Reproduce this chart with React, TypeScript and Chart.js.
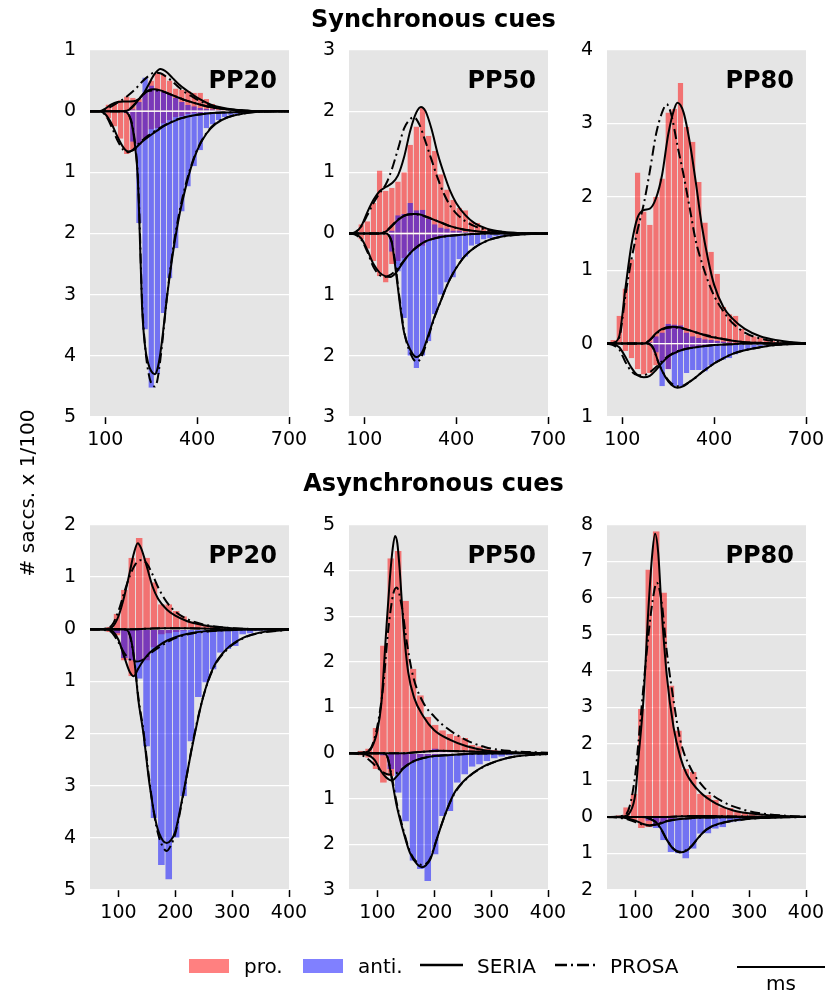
import React, { useEffect, useRef } from "react";
import { Chart, registerables } from "chart.js";
Chart.register(...registerables);

// ---------- bins & ticks ----------
const TOP_BINS = [70, 90, 110, 130, 150, 170, 190, 210, 230, 250, 270, 290, 310, 330, 350, 370, 390, 410, 430, 450, 470, 490, 510, 530, 550, 570, 590, 610, 630, 650, 670, 690];
const BOT_BINS = [58.5, 71.5, 84.5, 97.5, 110.5, 123.5, 136.5, 149.5, 162.5, 175.5, 188.5, 201.5, 214.5, 227.5, 240.5, 253.5, 266.5, 279.5, 292.5, 305.5, 318.5, 331.5, 344.5, 357.5, 370.5, 383.5, 396.5];
const TOP_XTICKS = [100, 400, 700];
const BOT_XTICKS = [100, 200, 300, 400];

// ---------- Synchronous PP20 ----------
const S20_PRO_UP = [0, 0.01, 0.11, 0.12, 0.18, 0.24, 0.22, 0.2, 0.3, 0.5, 0.62, 0.6, 0.5, 0.37, 0.35, 0.33, 0.3, 0.3, 0.2, 0.12, 0.08, 0.05, 0.03, 0.02, 0.01, 0, 0, 0, 0, 0, 0, 0];
const S20_ANTI_UP = [0, 0, 0, 0, 0, 0, 0.03, 0.15, 0.55, 0.42, 0.35, 0.32, 0.28, 0.22, 0.15, 0.1, 0.08, 0.05, 0.04, 0.03, 0.02, 0.01, 0, 0, 0, 0, 0, 0, 0, 0, 0, 0];
const S20_PRO_DN = [0, 0.02, 0.12, 0.25, 0.45, 0.7, 0.65, 0.55, 0.45, 0.3, 0.28, 0.2, 0.15, 0.1, 0.08, 0.05, 0.04, 0.03, 0.02, 0.01, 0, 0, 0, 0, 0, 0, 0, 0, 0, 0, 0, 0];
const S20_ANTI_DN = [0, 0, 0, 0, 0, 0.03, 0.5, 1.83, 3.57, 4.52, 4.3, 3.3, 2.73, 2.24, 1.64, 1.23, 0.9, 0.64, 0.28, 0.22, 0.15, 0.1, 0.07, 0.05, 0.03, 0.02, 0.01, 0, 0, 0, 0, 0];
const S20_SERIA_PRO = [[50, 0], [80, 0], [100, 0.04], [120, 0.11], [140, 0.15], [160, 0.16], [180, 0.16], [200, 0.17], [220, 0.25], [240, 0.42], [260, 0.6], [280, 0.69], [300, 0.64], [320, 0.54], [340, 0.44], [360, 0.36], [380, 0.29], [400, 0.22], [430, 0.14], [460, 0.08], [500, 0.04], [550, 0.01], [600, 0], [700, 0]];
const S20_PROSA_PRO = [[50, 0], [80, 0], [100, 0.03], [120, 0.08], [140, 0.14], [160, 0.2], [180, 0.28], [200, 0.37], [220, 0.48], [240, 0.57], [260, 0.63], [280, 0.62], [300, 0.56], [320, 0.48], [340, 0.39], [360, 0.31], [380, 0.25], [400, 0.19], [430, 0.12], [460, 0.07], [500, 0.03], [550, 0.01], [600, 0], [700, 0]];
const S20_SERIA_ANTI_UP = [[50, 0], [160, 0], [180, 0.03], [200, 0.13], [220, 0.26], [240, 0.34], [260, 0.36], [280, 0.34], [300, 0.3], [320, 0.26], [340, 0.22], [360, 0.18], [380, 0.15], [400, 0.12], [430, 0.08], [460, 0.05], [500, 0.03], [550, 0.01], [600, 0], [700, 0]];
const S20_PROSA_ANTI_UP = [[50, 0], [160, 0], [180, 0.04], [200, 0.14], [220, 0.25], [240, 0.33], [260, 0.34], [280, 0.33], [300, 0.3], [320, 0.26], [340, 0.22], [360, 0.18], [380, 0.15], [400, 0.12], [430, 0.08], [460, 0.05], [500, 0.03], [550, 0.01], [600, 0], [700, 0]];
const S20_SERIA_PRO_DN = [[50, 0], [80, 0], [100, 0.05], [120, 0.2], [140, 0.42], [160, 0.6], [175, 0.66], [190, 0.64], [200, 0.6], [220, 0.5], [240, 0.42], [260, 0.35], [280, 0.28], [300, 0.22], [330, 0.15], [360, 0.1], [400, 0.06], [450, 0.03], [500, 0.02], [550, 0.01], [600, 0], [700, 0]];
const S20_PROSA_PRO_DN = [[50, 0], [80, 0], [100, 0.06], [120, 0.25], [140, 0.48], [160, 0.64], [175, 0.67], [190, 0.63], [200, 0.58], [220, 0.48], [240, 0.4], [260, 0.33], [280, 0.27], [300, 0.21], [330, 0.14], [360, 0.1], [400, 0.06], [450, 0.03], [500, 0.02], [550, 0.01], [600, 0], [700, 0]];
const S20_SERIA_ANTI_DN = [[50, 0], [160, 0], [170, 0.02], [180, 0.1], [190, 0.3], [200, 0.7], [205, 1.0], [210, 1.6], [220, 3.2], [230, 3.85], [240, 4.12], [250, 4.25], [262, 4.3], [270, 4.22], [280, 3.95], [290, 3.55], [300, 3.1], [320, 2.35], [340, 1.75], [360, 1.3], [380, 0.92], [400, 0.64], [430, 0.37], [460, 0.21], [500, 0.1], [550, 0.04], [600, 0.01], [700, 0]];
const S20_PROSA_ANTI_DN = [[50, 0], [160, 0], [170, 0.02], [180, 0.09], [190, 0.27], [200, 0.65], [205, 0.95], [210, 1.5], [220, 3.1], [230, 3.85], [240, 4.25], [250, 4.45], [262, 4.5], [270, 4.4], [280, 4.05], [290, 3.6], [300, 3.1], [320, 2.3], [340, 1.7], [360, 1.25], [380, 0.9], [400, 0.63], [430, 0.36], [460, 0.2], [500, 0.1], [550, 0.04], [600, 0.01], [700, 0]];

// ---------- Synchronous PP50 ----------
const S50_PRO_UP = [0, 0.15, 0.2, 0.5, 1.03, 0.7, 0.75, 0.85, 1.0, 1.45, 1.75, 2.05, 1.6, 1.35, 0.97, 0.72, 0.55, 0.42, 0.38, 0.2, 0.17, 0.1, 0.07, 0.05, 0.03, 0.02, 0.01, 0, 0, 0, 0, 0];
const S50_ANTI_UP = [0, 0, 0, 0, 0, 0, 0.05, 0.3, 0.32, 0.5, 0.38, 0.39, 0.25, 0.15, 0.1, 0.08, 0.05, 0.05, 0.03, 0.02, 0.01, 0, 0, 0, 0, 0, 0, 0, 0, 0, 0, 0];
const S50_PRO_DN = [0, 0.1, 0.25, 0.45, 0.7, 0.8, 0.5, 0.45, 0.4, 0.3, 0.25, 0.2, 0.12, 0.1, 0.07, 0.05, 0.04, 0.03, 0.02, 0.01, 0, 0, 0, 0, 0, 0, 0, 0, 0, 0, 0, 0];
const S50_ANTI_DN = [0, 0, 0, 0, 0, 0, 0.3, 0.62, 1.38, 2.0, 2.2, 2.0, 1.76, 1.32, 1.0, 0.8, 0.72, 0.42, 0.38, 0.2, 0.18, 0.1, 0.08, 0.05, 0.04, 0.03, 0.02, 0.01, 0, 0, 0, 0];
const S50_SERIA_PRO = [[50, 0], [70, 0.02], [90, 0.12], [110, 0.35], [130, 0.55], [150, 0.69], [170, 0.76], [190, 0.82], [210, 0.95], [230, 1.25], [250, 1.68], [270, 1.98], [285, 2.07], [300, 2.0], [320, 1.7], [340, 1.3], [360, 0.98], [380, 0.7], [400, 0.5], [430, 0.3], [460, 0.17], [500, 0.08], [550, 0.03], [600, 0.01], [700, 0]];
const S50_PROSA_PRO = [[50, 0], [70, 0.02], [90, 0.12], [110, 0.3], [130, 0.5], [150, 0.66], [170, 0.8], [190, 1.05], [210, 1.38], [230, 1.72], [250, 1.87], [262, 1.9], [280, 1.78], [300, 1.5], [320, 1.2], [340, 0.9], [360, 0.65], [380, 0.46], [400, 0.33], [430, 0.2], [460, 0.12], [500, 0.06], [550, 0.02], [600, 0.01], [700, 0]];
const S50_SERIA_ANTI_UP = [[50, 0], [150, 0], [170, 0.03], [190, 0.12], [210, 0.22], [230, 0.29], [250, 0.32], [270, 0.32], [290, 0.3], [320, 0.24], [350, 0.18], [380, 0.12], [420, 0.07], [460, 0.04], [500, 0.02], [550, 0.01], [600, 0], [700, 0]];
const S50_PROSA_ANTI_UP = [[50, 0], [150, 0], [170, 0.04], [190, 0.13], [210, 0.23], [230, 0.29], [250, 0.31], [270, 0.31], [290, 0.29], [320, 0.24], [350, 0.18], [380, 0.12], [420, 0.07], [460, 0.04], [500, 0.02], [550, 0.01], [600, 0], [700, 0]];
const S50_SERIA_PRO_DN = [[50, 0], [70, 0.01], [90, 0.08], [110, 0.27], [130, 0.5], [150, 0.64], [170, 0.7], [185, 0.71], [200, 0.66], [220, 0.52], [240, 0.38], [260, 0.27], [280, 0.19], [300, 0.13], [330, 0.08], [360, 0.05], [400, 0.03], [450, 0.01], [500, 0], [700, 0]];
const S50_PROSA_PRO_DN = [[50, 0], [70, 0.02], [90, 0.1], [110, 0.3], [130, 0.55], [150, 0.68], [165, 0.71], [180, 0.69], [200, 0.62], [220, 0.5], [240, 0.38], [260, 0.27], [280, 0.19], [300, 0.13], [330, 0.08], [360, 0.05], [400, 0.03], [450, 0.01], [500, 0], [700, 0]];
const S50_SERIA_ANTI_DN = [[50, 0], [170, 0], [180, 0.03], [190, 0.15], [200, 0.5], [210, 0.9], [220, 1.3], [230, 1.62], [250, 1.9], [270, 2.02], [290, 1.93], [310, 1.65], [330, 1.35], [350, 1.1], [370, 0.85], [390, 0.65], [410, 0.49], [430, 0.36], [460, 0.23], [500, 0.12], [550, 0.05], [600, 0.02], [700, 0]];
const S50_PROSA_ANTI_DN = [[50, 0], [170, 0], [180, 0.03], [190, 0.14], [200, 0.45], [210, 0.85], [220, 1.25], [230, 1.6], [250, 1.95], [272, 2.1], [290, 1.98], [310, 1.68], [330, 1.36], [350, 1.1], [370, 0.85], [390, 0.65], [410, 0.49], [430, 0.36], [460, 0.23], [500, 0.12], [550, 0.05], [600, 0.02], [700, 0]];

// ---------- Synchronous PP80 ----------
const S80_PRO_UP = [0.05, 0.38, 0.75, 1.15, 2.33, 1.8, 1.62, 2.0, 2.25, 3.15, 3.2, 3.55, 2.95, 2.75, 2.2, 1.65, 1.25, 0.95, 0.5, 0.4, 0.38, 0.2, 0.12, 0.1, 0.08, 0.05, 0.04, 0.03, 0.02, 0.01, 0, 0];
const S80_ANTI_UP = [0, 0, 0, 0, 0, 0, 0.02, 0.1, 0.15, 0.27, 0.26, 0.25, 0.15, 0.1, 0.08, 0.06, 0.05, 0.04, 0.03, 0.02, 0.01, 0, 0, 0, 0, 0, 0, 0, 0, 0, 0, 0];
const S80_PRO_DN = [0, 0.02, 0.1, 0.2, 0.35, 0.42, 0.4, 0.3, 0.25, 0.35, 0.15, 0.1, 0.08, 0.05, 0.04, 0.03, 0.02, 0.01, 0, 0, 0, 0, 0, 0, 0, 0, 0, 0, 0, 0, 0, 0];
const S80_ANTI_DN = [0, 0, 0, 0, 0, 0, 0, 0.12, 0.58, 0.35, 0.58, 0.58, 0.4, 0.36, 0.36, 0.38, 0.3, 0.24, 0.22, 0.2, 0.15, 0.1, 0.08, 0.06, 0.04, 0.03, 0.02, 0.01, 0, 0, 0, 0];
const S80_SERIA_PRO = [[50, 0], [70, 0.01], [90, 0.1], [110, 0.75], [130, 1.35], [150, 1.72], [170, 1.82], [190, 1.84], [210, 1.98], [230, 2.3], [250, 2.85], [270, 3.2], [280, 3.28], [300, 3.15], [320, 2.75], [340, 2.2], [360, 1.6], [380, 1.15], [400, 0.8], [430, 0.5], [460, 0.34], [500, 0.2], [550, 0.1], [600, 0.05], [700, 0]];
const S80_PROSA_PRO = [[50, 0], [70, 0.01], [90, 0.08], [110, 0.65], [130, 1.15], [150, 1.55], [170, 1.9], [190, 2.35], [210, 2.85], [230, 3.15], [245, 3.26], [260, 3.12], [280, 2.7], [300, 2.3], [320, 1.85], [340, 1.4], [360, 1.1], [380, 0.85], [400, 0.65], [430, 0.44], [460, 0.28], [500, 0.15], [550, 0.07], [600, 0.03], [700, 0]];
const S80_SERIA_ANTI_UP = [[50, 0], [170, 0], [190, 0.05], [210, 0.14], [230, 0.2], [260, 0.23], [290, 0.22], [320, 0.18], [350, 0.14], [380, 0.1], [420, 0.07], [460, 0.04], [500, 0.02], [550, 0.01], [600, 0], [700, 0]];
const S80_PROSA_ANTI_UP = [[50, 0], [170, 0], [190, 0.05], [210, 0.13], [230, 0.19], [260, 0.22], [290, 0.21], [320, 0.18], [350, 0.14], [380, 0.11], [420, 0.07], [460, 0.04], [500, 0.02], [550, 0.01], [600, 0], [700, 0]];
const S80_SERIA_PRO_DN = [[50, 0], [70, 0.01], [90, 0.05], [110, 0.18], [130, 0.33], [150, 0.43], [170, 0.46], [190, 0.44], [210, 0.36], [230, 0.26], [250, 0.18], [270, 0.13], [300, 0.08], [340, 0.05], [400, 0.02], [450, 0.01], [500, 0], [700, 0]];
const S80_PROSA_PRO_DN = [[50, 0], [70, 0.02], [90, 0.08], [110, 0.25], [130, 0.38], [150, 0.43], [170, 0.43], [190, 0.39], [210, 0.32], [230, 0.24], [250, 0.17], [270, 0.12], [300, 0.08], [340, 0.05], [400, 0.02], [450, 0.01], [500, 0], [700, 0]];
const S80_SERIA_ANTI_DN = [[50, 0], [180, 0], [200, 0.05], [220, 0.28], [240, 0.45], [260, 0.56], [280, 0.6], [300, 0.58], [320, 0.52], [340, 0.46], [360, 0.39], [380, 0.33], [400, 0.27], [430, 0.2], [460, 0.14], [500, 0.09], [550, 0.05], [600, 0.02], [700, 0]];
const S80_PROSA_ANTI_DN = [[50, 0], [180, 0], [200, 0.06], [220, 0.28], [240, 0.44], [260, 0.54], [280, 0.58], [300, 0.57], [320, 0.52], [340, 0.46], [360, 0.39], [380, 0.33], [400, 0.27], [430, 0.2], [460, 0.14], [500, 0.09], [550, 0.05], [600, 0.02], [700, 0]];

// ---------- Asynchronous PP20 ----------
const A20_PRO_UP = [0, 0.02, 0.05, 0.3, 0.76, 1.37, 1.75, 1.37, 0.9, 0.48, 0.48, 0.35, 0.25, 0.15, 0.1, 0.08, 0.05, 0.03, 0.02, 0.02, 0.01, 0.01, 0, 0, 0, 0, 0];
const A20_ANTI_UP = [0, 0, 0, 0, 0, 0, 0.01, 0.02, 0.02, 0.02, 0.02, 0.01, 0.01, 0.01, 0, 0, 0, 0, 0, 0, 0, 0, 0, 0, 0, 0, 0];
const A20_PRO_DN = [0.03, 0.02, 0.05, 0.12, 0.6, 0.9, 0.6, 0.6, 0.35, 0.1, 0.08, 0.05, 0.03, 0.02, 0.01, 0, 0, 0, 0, 0, 0, 0, 0, 0, 0, 0, 0];
const A20_ANTI_DN = [0, 0, 0, 0.08, 0.55, 0.6, 0.95, 2.25, 3.62, 4.52, 4.8, 4.0, 3.2, 2.15, 1.3, 1.02, 0.77, 0.45, 0.38, 0.32, 0.1, 0.08, 0.04, 0.03, 0.02, 0.01, 0];
const A20_SERIA_PRO = [[50, 0], [80, 0.01], [90, 0.05], [100, 0.25], [110, 0.62], [120, 1.1], [127, 1.45], [134, 1.65], [140, 1.55], [150, 1.2], [160, 0.82], [170, 0.58], [185, 0.38], [200, 0.26], [220, 0.16], [240, 0.1], [260, 0.06], [290, 0.03], [320, 0.01], [400, 0]];
const A20_PROSA_PRO = [[50, 0], [80, 0.02], [90, 0.1], [100, 0.35], [110, 0.7], [120, 1.02], [130, 1.25], [141, 1.33], [150, 1.26], [160, 1.05], [170, 0.8], [185, 0.52], [200, 0.34], [220, 0.2], [240, 0.12], [260, 0.07], [290, 0.03], [320, 0.01], [400, 0]];
const A20_SERIA_ANTI_UP = [[50, 0], [120, 0], [150, 0.01], [180, 0.02], [220, 0.02], [260, 0.01], [300, 0], [400, 0]];
const A20_PROSA_ANTI_UP = [[50, 0], [120, 0], [150, 0.01], [180, 0.02], [220, 0.02], [260, 0.01], [300, 0], [400, 0]];
const A20_SERIA_PRO_DN = [[50, 0], [80, 0.01], [90, 0.04], [100, 0.2], [110, 0.52], [120, 0.82], [127, 0.9], [135, 0.75], [145, 0.58], [155, 0.45], [170, 0.32], [185, 0.22], [200, 0.15], [220, 0.09], [250, 0.04], [290, 0.02], [340, 0], [400, 0]];
const A20_PROSA_PRO_DN = [[50, 0], [80, 0.02], [90, 0.08], [100, 0.25], [110, 0.45], [120, 0.58], [130, 0.62], [140, 0.6], [150, 0.52], [160, 0.43], [175, 0.32], [190, 0.22], [210, 0.13], [230, 0.08], [260, 0.04], [300, 0.01], [400, 0]];
const A20_SERIA_ANTI_DN = [[50, 0], [110, 0], [120, 0.1], [128, 0.6], [135, 1.35], [144, 2.0], [155, 3.0], [167, 3.75], [178, 4.05], [185, 4.1], [192, 4.05], [200, 3.88], [214, 3.15], [232, 2.13], [249, 1.3], [267, 0.73], [290, 0.38], [320, 0.16], [350, 0.06], [400, 0.01]];
const A20_PROSA_ANTI_DN = [[50, 0], [110, 0], [120, 0.12], [128, 0.6], [135, 1.3], [144, 1.95], [155, 2.95], [167, 3.8], [178, 4.17], [185, 4.25], [192, 4.15], [200, 3.92], [214, 3.18], [232, 2.1], [249, 1.3], [267, 0.75], [290, 0.4], [320, 0.17], [350, 0.07], [400, 0.01]];

// ---------- Asynchronous PP50 ----------
const A50_PRO_UP = [0.01, 0.05, 0.1, 0.55, 2.36, 4.27, 4.43, 3.34, 1.85, 1.27, 0.8, 0.62, 0.5, 0.42, 0.38, 0.33, 0.18, 0.15, 0.1, 0.07, 0.05, 0.03, 0.02, 0.01, 0, 0, 0];
const A50_ANTI_UP = [0, 0, 0, 0, 0, 0, 0, 0.02, 0.03, 0.03, 0.05, 0.1, 0.05, 0.04, 0.02, 0.02, 0.01, 0.01, 0, 0, 0, 0, 0, 0, 0, 0, 0];
const A50_PRO_DN = [0.02, 0.05, 0.1, 0.35, 0.65, 0.5, 0.42, 0.3, 0.2, 0.1, 0.07, 0.05, 0.03, 0.02, 0.01, 0, 0, 0, 0, 0, 0, 0, 0, 0, 0, 0, 0];
const A50_ANTI_DN = [0, 0, 0, 0, 0.05, 0.35, 0.87, 1.5, 2.36, 2.54, 2.8, 2.22, 1.38, 1.27, 0.65, 0.47, 0.3, 0.25, 0.18, 0.12, 0.08, 0.05, 0.03, 0.02, 0.01, 0, 0];
const A50_SERIA_PRO = [[50, 0], [80, 0.02], [90, 0.12], [100, 0.5], [107, 1.1], [115, 2.6], [122, 3.85], [127, 4.5], [131, 4.76], [135, 4.6], [139, 4.05], [146, 2.75], [154, 1.78], [165, 1.2], [180, 0.82], [200, 0.5], [228, 0.29], [257, 0.15], [290, 0.06], [330, 0.02], [400, 0]];
const A50_PROSA_PRO = [[50, 0], [80, 0.03], [90, 0.15], [100, 0.6], [110, 1.45], [119, 2.7], [128, 3.5], [134, 3.63], [143, 3.2], [152, 2.4], [163, 1.67], [181, 1.1], [200, 0.8], [222, 0.55], [257, 0.28], [290, 0.13], [330, 0.05], [400, 0.01]];
const A50_SERIA_ANTI_UP = [[50, 0], [150, 0], [180, 0.03], [210, 0.05], [250, 0.04], [300, 0.02], [350, 0.01], [400, 0]];
const A50_PROSA_ANTI_UP = [[50, 0], [150, 0], [180, 0.03], [210, 0.05], [250, 0.04], [300, 0.02], [350, 0.01], [400, 0]];
const A50_SERIA_PRO_DN = [[50, 0], [80, 0.03], [95, 0.15], [105, 0.37], [115, 0.53], [125, 0.6], [134, 0.51], [146, 0.33], [163, 0.18], [187, 0.09], [228, 0.04], [280, 0.01], [400, 0]];
const A50_PROSA_PRO_DN = [[50, 0], [70, 0.03], [80, 0.1], [90, 0.2], [100, 0.32], [110, 0.42], [120, 0.47], [130, 0.46], [140, 0.38], [150, 0.28], [165, 0.17], [187, 0.09], [228, 0.04], [280, 0.01], [400, 0]];
const A50_SERIA_ANTI_DN = [[50, 0], [110, 0], [118, 0.1], [125, 0.55], [134, 1.16], [146, 1.74], [157, 2.18], [170, 2.44], [178, 2.5], [186, 2.45], [193, 2.33], [204, 1.9], [216, 1.45], [234, 0.9], [257, 0.55], [287, 0.29], [316, 0.15], [345, 0.07], [400, 0.02]];
const A50_PROSA_ANTI_DN = [[50, 0], [110, 0], [118, 0.1], [125, 0.5], [134, 1.1], [146, 1.7], [157, 2.15], [170, 2.4], [178, 2.45], [186, 2.42], [193, 2.3], [204, 1.9], [216, 1.45], [234, 0.92], [257, 0.56], [287, 0.3], [316, 0.15], [345, 0.07], [400, 0.02]];

// ---------- Asynchronous PP80 ----------
const A80_PRO_UP = [0.01, 0.05, 0.27, 0.64, 2.96, 6.78, 7.83, 6.15, 3.6, 2.37, 1.32, 1.23, 0.64, 0.6, 0.47, 0.27, 0.25, 0.15, 0.12, 0.08, 0.05, 0.03, 0.02, 0.01, 0.01, 0.01, 0.03];
const A80_ANTI_UP = [0, 0, 0, 0, 0, 0, 0, 0, 0.01, 0.02, 0.03, 0.05, 0.05, 0.03, 0.02, 0.01, 0, 0, 0, 0, 0, 0, 0, 0, 0, 0, 0];
const A80_PRO_DN = [0.01, 0.02, 0.03, 0.1, 0.3, 0.28, 0.25, 0.15, 0.1, 0.05, 0.03, 0.02, 0.01, 0, 0, 0, 0, 0, 0, 0, 0, 0, 0, 0, 0, 0, 0];
const A80_ANTI_DN = [0, 0, 0, 0, 0, 0.1, 0.3, 0.64, 0.96, 1.0, 1.14, 0.87, 0.46, 0.45, 0.32, 0.28, 0.15, 0.12, 0.08, 0.05, 0.03, 0.02, 0.01, 0, 0, 0, 0];
const A80_SERIA_PRO = [[50, 0], [80, 0.02], [90, 0.12], [100, 0.65], [105, 1.55], [114, 3.2], [123, 5.74], [129, 7.1], [134.5, 7.76], [140, 7.25], [146, 5.7], [155, 3.9], [167, 2.46], [179, 1.64], [190, 1.18], [214, 0.68], [243, 0.36], [272, 0.18], [320, 0.07], [360, 0.03], [400, 0.01]];
const A80_PROSA_PRO = [[50, 0], [80, 0.04], [90, 0.3], [100, 1.2], [105, 2.0], [114, 3.55], [123, 5.0], [130, 5.9], [137.5, 6.42], [146, 5.9], [155, 4.55], [167, 3.2], [179, 2.1], [196, 1.37], [220, 0.82], [249, 0.46], [290, 0.2], [330, 0.08], [370, 0.03], [400, 0.01]];
const A80_SERIA_ANTI_UP = [[50, 0], [150, 0], [200, 0.03], [250, 0.02], [300, 0.01], [400, 0]];
const A80_PROSA_ANTI_UP = [[50, 0], [150, 0], [200, 0.03], [250, 0.02], [300, 0.01], [400, 0]];
const A80_SERIA_PRO_DN = [[50, 0], [80, 0.02], [100, 0.1], [115, 0.2], [125, 0.23], [140, 0.2], [155, 0.12], [175, 0.06], [200, 0.03], [250, 0.01], [400, 0]];
const A80_PROSA_PRO_DN = [[50, 0], [80, 0.04], [100, 0.14], [115, 0.22], [125, 0.23], [140, 0.18], [155, 0.11], [175, 0.06], [200, 0.03], [250, 0.01], [400, 0]];
const A80_SERIA_ANTI_DN = [[50, 0], [110, 0], [125, 0.04], [135, 0.12], [145, 0.32], [155, 0.62], [167, 0.88], [178, 0.97], [190, 0.92], [200, 0.78], [210, 0.58], [225, 0.34], [250, 0.17], [285, 0.07], [320, 0.03], [360, 0.01], [400, 0]];
const A80_PROSA_ANTI_DN = [[50, 0], [110, 0], [125, 0.05], [135, 0.14], [145, 0.33], [155, 0.62], [167, 0.87], [178, 0.95], [190, 0.9], [200, 0.77], [210, 0.58], [225, 0.35], [250, 0.18], [285, 0.08], [320, 0.03], [360, 0.01], [400, 0]];

// ---------- layout ----------
const PLOT_W = 199;
const PAD_L = 60;
const PAD_T = 30;
const PAD_R = 28;
const PAD_B = 48;
const FONT = "'DejaVu Sans', sans-serif";

const PANELS = [
  { label: "PP20", left: 90, top: 50, h: 367, xMin: 50, xMax: 700, xTicks: TOP_XTICKS, yMin: -5, yMax: 1, bins: TOP_BINS,
    proUp: S20_PRO_UP, antiUp: S20_ANTI_UP, proDn: S20_PRO_DN, antiDn: S20_ANTI_DN,
    seriaPro: S20_SERIA_PRO, prosaPro: S20_PROSA_PRO, seriaAntiUp: S20_SERIA_ANTI_UP, prosaAntiUp: S20_PROSA_ANTI_UP,
    seriaProDn: S20_SERIA_PRO_DN, prosaProDn: S20_PROSA_PRO_DN, seriaAntiDn: S20_SERIA_ANTI_DN, prosaAntiDn: S20_PROSA_ANTI_DN },
  { label: "PP50", left: 349, top: 50, h: 367, xMin: 50, xMax: 700, xTicks: TOP_XTICKS, yMin: -3, yMax: 3, bins: TOP_BINS,
    proUp: S50_PRO_UP, antiUp: S50_ANTI_UP, proDn: S50_PRO_DN, antiDn: S50_ANTI_DN,
    seriaPro: S50_SERIA_PRO, prosaPro: S50_PROSA_PRO, seriaAntiUp: S50_SERIA_ANTI_UP, prosaAntiUp: S50_PROSA_ANTI_UP,
    seriaProDn: S50_SERIA_PRO_DN, prosaProDn: S50_PROSA_PRO_DN, seriaAntiDn: S50_SERIA_ANTI_DN, prosaAntiDn: S50_PROSA_ANTI_DN },
  { label: "PP80", left: 607, top: 50, h: 367, xMin: 50, xMax: 700, xTicks: TOP_XTICKS, yMin: -1, yMax: 4, bins: TOP_BINS,
    proUp: S80_PRO_UP, antiUp: S80_ANTI_UP, proDn: S80_PRO_DN, antiDn: S80_ANTI_DN,
    seriaPro: S80_SERIA_PRO, prosaPro: S80_PROSA_PRO, seriaAntiUp: S80_SERIA_ANTI_UP, prosaAntiUp: S80_PROSA_ANTI_UP,
    seriaProDn: S80_SERIA_PRO_DN, prosaProDn: S80_PROSA_PRO_DN, seriaAntiDn: S80_SERIA_ANTI_DN, prosaAntiDn: S80_PROSA_ANTI_DN },
  { label: "PP20", left: 90, top: 525, h: 365, xMin: 50, xMax: 400, xTicks: BOT_XTICKS, yMin: -5, yMax: 2, bins: BOT_BINS,
    proUp: A20_PRO_UP, antiUp: A20_ANTI_UP, proDn: A20_PRO_DN, antiDn: A20_ANTI_DN,
    seriaPro: A20_SERIA_PRO, prosaPro: A20_PROSA_PRO, seriaAntiUp: A20_SERIA_ANTI_UP, prosaAntiUp: A20_PROSA_ANTI_UP,
    seriaProDn: A20_SERIA_PRO_DN, prosaProDn: A20_PROSA_PRO_DN, seriaAntiDn: A20_SERIA_ANTI_DN, prosaAntiDn: A20_PROSA_ANTI_DN },
  { label: "PP50", left: 349, top: 525, h: 365, xMin: 50, xMax: 400, xTicks: BOT_XTICKS, yMin: -3, yMax: 5, bins: BOT_BINS,
    proUp: A50_PRO_UP, antiUp: A50_ANTI_UP, proDn: A50_PRO_DN, antiDn: A50_ANTI_DN,
    seriaPro: A50_SERIA_PRO, prosaPro: A50_PROSA_PRO, seriaAntiUp: A50_SERIA_ANTI_UP, prosaAntiUp: A50_PROSA_ANTI_UP,
    seriaProDn: A50_SERIA_PRO_DN, prosaProDn: A50_PROSA_PRO_DN, seriaAntiDn: A50_SERIA_ANTI_DN, prosaAntiDn: A50_PROSA_ANTI_DN },
  { label: "PP80", left: 607, top: 525, h: 365, xMin: 50, xMax: 400, xTicks: BOT_XTICKS, yMin: -2, yMax: 8, bins: BOT_BINS,
    proUp: A80_PRO_UP, antiUp: A80_ANTI_UP, proDn: A80_PRO_DN, antiDn: A80_ANTI_DN,
    seriaPro: A80_SERIA_PRO, prosaPro: A80_PROSA_PRO, seriaAntiUp: A80_SERIA_ANTI_UP, prosaAntiUp: A80_PROSA_ANTI_UP,
    seriaProDn: A80_SERIA_PRO_DN, prosaProDn: A80_PROSA_PRO_DN, seriaAntiDn: A80_SERIA_ANTI_DN, prosaAntiDn: A80_PROSA_ANTI_DN },
];

const RED = "rgba(255,0,0,0.5)";
const BLUE = "rgba(0,0,255,0.5)";
const EDGE = "rgba(255,255,255,0.15)";
const DASHDOT = [10, 4, 2, 4];

const bgPlugin = {
  id: "panelBg",
  beforeDraw(chart: any) {
    const { ctx, chartArea: a } = chart;
    ctx.save();
    ctx.fillStyle = "#E5E5E5";
    ctx.fillRect(a.left, a.top, a.right - a.left, a.bottom - a.top);
    ctx.restore();
  },
};

function Panel({ p }: { p: any }) {
  const ref = useRef<HTMLCanvasElement>(null);
  const W = PLOT_W + PAD_L + PAD_R;
  const H = p.h + PAD_T + PAD_B;
  useEffect(() => {
    const bars = (arr: number[], sign: number, color: string, order: number) => ({
      type: "bar",
      data: p.bins.map((x: number, i: number) => ({ x, y: sign * arr[i] })),
      backgroundColor: color,
      borderColor: EDGE,
      borderWidth: { left: 0.4, right: 0.4, top: 0, bottom: 0 },
      borderSkipped: false,
      inflateAmount: 0,
      grouped: false,
      barPercentage: 1,
      categoryPercentage: 1,
      order,
    });
    const line = (pts: number[][], sign: number, dashed: boolean) => ({
      type: "line",
      data: pts.map(([x, y]) => ({ x, y: sign * y })),
      borderColor: "#000",
      borderWidth: 2,
      borderDash: dashed ? DASHDOT : [],
      pointRadius: 0,
      fill: false,
      cubicInterpolationMode: "monotone",
      order: 0,
    });
    const yTicks: number[] = [];
    for (let v = p.yMin; v <= p.yMax; v++) yTicks.push(v);
    const chart = new Chart(ref.current as HTMLCanvasElement, {
      type: "bar",
      data: {
        datasets: [
          line(p.seriaPro, 1, false),
          line(p.prosaPro, 1, true),
          line(p.seriaAntiUp, 1, false),
          line(p.prosaAntiUp, 1, true),
          line(p.seriaProDn, -1, false),
          line(p.prosaProDn, -1, true),
          line(p.seriaAntiDn, -1, false),
          line(p.prosaAntiDn, -1, true),
          bars(p.antiUp, 1, BLUE, 1),
          bars(p.antiDn, -1, BLUE, 1),
          bars(p.proUp, 1, RED, 2),
          bars(p.proDn, -1, RED, 2),
        ] as any,
      },
      options: {
        animation: false,
        responsive: false,
        maintainAspectRatio: false,
        events: [],
        layout: { padding: { left: 0, top: PAD_T, right: PAD_R, bottom: 0 } },
        plugins: { legend: { display: false }, tooltip: { enabled: false }, title: { display: false } },
        scales: {
          x: {
            type: "linear",
            offset: false,
            min: p.xMin,
            max: p.xMax,
            afterBuildTicks: (s: any) => { s.ticks = p.xTicks.map((v: number) => ({ value: v })); },
            afterFit: (s: any) => { s.height = PAD_B; },
            grid: { offset: false, drawOnChartArea: false, drawTicks: true, tickLength: 7, tickColor: "#000", tickWidth: 1.5 },
            border: { display: false },
            ticks: { padding: 5, color: "#000", font: { family: FONT, size: 19 }, maxRotation: 0, autoSkip: false },
          },
          y: {
            type: "linear",
            min: p.yMin,
            max: p.yMax,
            afterBuildTicks: (s: any) => { s.ticks = yTicks.map((v) => ({ value: v })); },
            afterFit: (s: any) => { s.width = PAD_L; },
            grid: { color: "#ffffff", lineWidth: 1.3, drawTicks: false },
            border: { display: false },
            ticks: { padding: 14, color: "#000", font: { family: FONT, size: 19 }, callback: (v: any) => String(Math.abs(Number(v))) },
          },
        },
      } as any,
      plugins: [bgPlugin],
    });
    return () => chart.destroy();
  }, []);
  return (
    <canvas
      ref={ref}
      width={W}
      height={H}
      style={{ position: "absolute", left: p.left - PAD_L, top: p.top - PAD_T, width: W, height: H }}
    />
  );
}

export default function App() {
  return (
    <div style={{ position: "absolute", left: 0, top: 0, width: 839, height: 992, background: "#fff", overflow: "hidden" }}>
      {PANELS.map((p, i) => <Panel key={i} p={p} />)}
      <svg width={839} height={992} style={{ position: "absolute", left: 0, top: 0, pointerEvents: "none" }} fontFamily={FONT}>
        <text x={433.5} y={27} textAnchor="middle" fontWeight="bold" fontSize={24} fill="#000">Synchronous cues</text>
        <text x={433.5} y={491} textAnchor="middle" fontWeight="bold" fontSize={24} fill="#000">Asynchronous cues</text>
        <text transform="translate(33.5,493) rotate(-90)" textAnchor="middle" fontSize={20} fill="#000"># saccs. x 1/100</text>
        {PANELS.map((p, i) => (
          <text key={i} x={p.left + PLOT_W - 12} y={p.top + 38} textAnchor="end" fontWeight="bold" fontSize={24} fill="#000">{p.label}</text>
        ))}
        <rect x={189} y={959} width={40} height={14} fill="#FF8080" />
        <text x={244} y={973} fontSize={20} fill="#000">pro.</text>
        <rect x={303} y={959} width={40} height={14} fill="#8080FF" />
        <text x={358} y={973} fontSize={20} fill="#000">anti.</text>
        <line x1={420} x2={463} y1={965} y2={965} stroke="#000" strokeWidth={2.5} />
        <text x={477} y={973} fontSize={20} fill="#000">SERIA</text>
        <line x1={555} x2={596} y1={965} y2={965} stroke="#000" strokeWidth={2.5} strokeDasharray="12 4 2 4" />
        <text x={610} y={973} fontSize={20} fill="#000">PROSA</text>
        <line x1={737} x2={825} y1={967} y2={967} stroke="#000" strokeWidth={2} />
        <text x={781} y={990} textAnchor="middle" fontSize={20} fill="#000">ms</text>
      </svg>
    </div>
  );
}
